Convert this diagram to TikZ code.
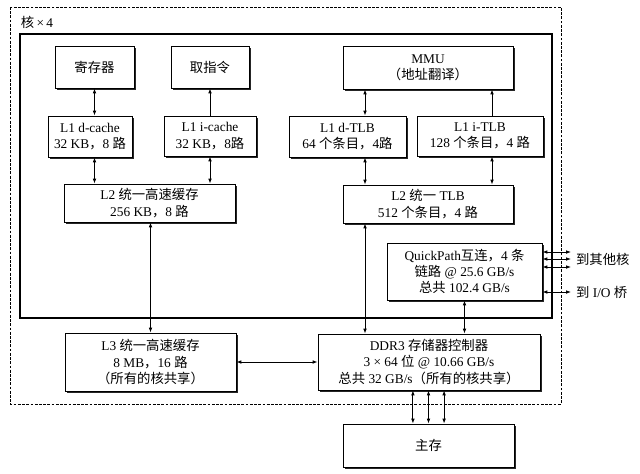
\documentclass[tikz,border=0pt]{standalone}
\usepackage{fontspec}
\setmainfont{Liberation Serif}
\newfontfamily\cjk[Scale=1.0]{Noto Sans CJK SC}
\newcommand\zh[1]{{\cjk #1}}
\usetikzlibrary{arrows.meta,shadows}

\tikzset{
  txt/.style={font=\fontsize{9.5}{11.5}\selectfont},
  box/.style={txt, draw, fill=white, align=center, inner sep=0pt,
    drop shadow={shadow xshift=1.2pt, shadow yshift=-1.2pt, fill=black!85, opacity=1}},
}

\begin{document}
\begin{tikzpicture}[x=0.25mm,y=-0.25mm,line width=0.6pt,>={Latex[length=3.5pt,width=2.6pt]}]
		\useasboundingbox (0,0) rectangle (640,473);
		% frames
		\draw[dash pattern=on 2pt off 1pt] (10,7) rectangle (561,404);
		\draw[line width=0.9pt] (20,34) rectangle (552,318);
		\node[txt] (core) at (37,22) {\zh{核}\,×\,4};
		% top row
		\node[box, minimum width=19.75mm, minimum height=10.5mm] (reg) at (94.5,67) {\zh{寄存器}};
		\node[box, minimum width=19.5mm, minimum height=10.5mm] (fetch) at (210,67) {\zh{取指令}};
		\node[box, minimum width=42.5mm, minimum height=10.75mm] (mmu) at (428,67.5) {MMU\\\zh{（地址翻译）}};
		% L1
		\node[box, minimum width=21mm, minimum height=10.25mm] (l1d) at (90,136.5) {L1 d-cache\\32 KB\zh{，}8 \zh{路}};
		\node[box, minimum width=23mm, minimum height=10mm] (l1i) at (210,136) {L1 i-cache\\32 KB\zh{，}8\zh{路}};
		\node[box, minimum width=29.25mm, minimum height=10.25mm] (dtlb) at (347.5,136.5) {L1 d-TLB\\64 \zh{个条目，}4\zh{路}};
		\node[box, minimum width=31.5mm, minimum height=10mm] (itlb) at (480,136) {L1 i-TLB\\128 \zh{个条目，}4 \zh{路}};
		% L2
		\node[box, minimum width=42.75mm, minimum height=9.5mm] (l2) at (149.5,203) {L2 \zh{统一高速缓存}\\256 KB\zh{，}8 \zh{路}};
		\node[box, minimum width=42.5mm, minimum height=9.5mm] (l2tlb) at (428,204) {L2 \zh{统一} TLB\\512 \zh{个条目，}4 \zh{路}};
		\node[box, minimum width=38.75mm, minimum height=14.25mm] (qp) at (464.5,271.5) {QuickPath\zh{互连，}4 \zh{条}\\\zh{链路} @ 25.6 GB/s\\\zh{总共} 102.4 GB/s};
		% shared
		\node[box, minimum width=42.75mm, minimum height=14.5mm] (l3) at (150.5,362) {L3 \zh{统一高速缓存}\\8 MB\zh{，}16 \zh{路}\\\zh{（所有的核共享）}};
		\node[box, minimum width=55.5mm, minimum height=14mm] (ddr) at (429,362) {DDR3 \zh{存储器控制器}\\3 × 64 \zh{位} @ 10.66 GB/s\\\zh{总共} 32 GB/s\zh{（所有的核共享）}};
		\node[box, minimum width=42.75mm, minimum height=10.75mm] (mem) at (428.5,445.5) {\zh{主存}};
		% outside
		\node[txt, anchor=west] (oth) at (571,259) {\zh{到其他核}};
		\node[txt, anchor=west] (io) at (571,292) {\zh{到} I/O \zh{桥}};
		% columns
		\coordinate (c1) at (365,0);
		\coordinate (c2) at (492,0);
		% arrows
		\draw[<->] (reg.south) -- (reg.south |- l1d.north);
		\draw[->] (l1i.north) -- (fetch.south);
		\draw[<->] (l1d.south -| reg) -- (l2.north -| reg);
		\draw[<->] (l1i.south) -- (l1i.south |- l2.north);
		\draw[<->] (mmu.south -| c1) -- (dtlb.north -| c1);
		\draw[->] (itlb.north -| c2) -- (mmu.south -| c2);
		\draw[<->] (dtlb.south -| c1) -- (l2tlb.north -| c1);
		\draw[<->] (itlb.south -| c2) -- (l2tlb.north -| c2);
		\draw[<->] (l2.south -| l3) -- (l3.north);
		\draw[<->] (l2tlb.south -| c1) -- (ddr.north -| c1);
		\draw[<->] (qp.south) -- (qp.south |- ddr.north);
		\draw[<->] (l3) -- (ddr);
		\foreach \s in {-3.9mm,0mm,3.9mm}
			\draw[<->] ([xshift=\s]ddr.south -| mem.north) -- ([xshift=\s]mem.north);
		\foreach \s in {1.75mm,0mm,-2mm}
			\draw[<->] ([yshift=\s]oth.west -| qp.east) -- ([yshift=\s]oth.west);
		\draw[<->] (io.west -| qp.east) -- (io.west);
	\end{tikzpicture}
\end{document}
